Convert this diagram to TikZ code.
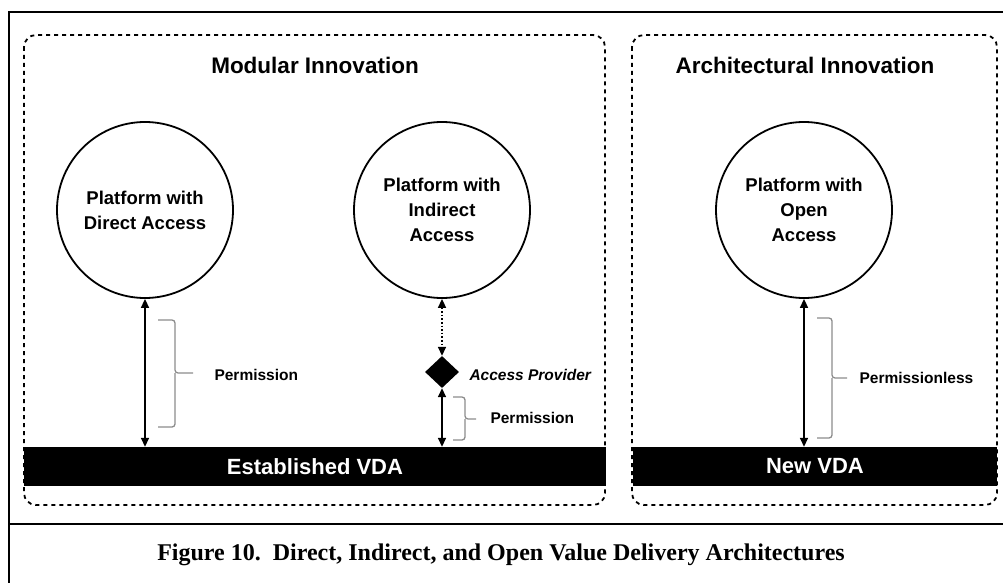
\documentclass[tikz,border=0pt]{standalone}
\usepackage{fontspec}
\setmainfont{Liberation Sans}
\newfontfamily\capfont{Liberation Serif}
\usetikzlibrary{shapes.geometric,arrows.meta}
\tikzset{
	platform/.style={circle,draw,line width=1.8pt,minimum size=176pt,inner sep=0pt,align=center,font=\bfseries\fontsize{18.5}{25}\selectfont},
	vda/.style={fill=black,text=white,inner sep=0pt,minimum height=39pt,font=\bfseries\fontsize{22}{26}\selectfont},
	area/.style={draw,line width=1.8pt,dash pattern=on 4pt off 4pt,rounded corners=12pt},
	heading/.style={font=\bfseries\fontsize{22.5}{26}\selectfont},
	small/.style={font=\bfseries\fontsize{15.5}{18}\selectfont},
	bracket/.style={draw=black!45,line width=1.3pt,rounded corners=3pt},
	link/.style={<->,line width=1.6pt}
}
\begin{document}
\begin{tikzpicture}[>={Triangle[length=9pt,width=8pt]},x=1pt,y=-1pt]
	\useasboundingbox (0,0) rectangle (1003,583);
	\draw[line width=2.5pt] (9,583) -- (9,12) -- (1003,12);
	\draw[line width=2.5pt] (9,524) -- (1003,524);
	\draw[area] (24,35) rectangle (605,505);
	\draw[area] (632,35) rectangle (997,505);
	\node[heading] (modular) at (315,65) {Modular Innovation};
	\node[heading] (archi) at (805,65) {Architectural Innovation};
	\node[vda,minimum width=582pt] (estab) at (315,466.5) {Established VDA};
	\node[vda,minimum width=364pt] (newvda) at (815,466.5) {New VDA};
	\node[platform] (direct) at (145,210) {Platform with\\Direct Access};
	\node[platform] (indirect) at (442,210) {Platform with\\Indirect\\Access};
	\node[platform] (open) at (804,210) {Platform with\\Open\\Access};
	\node[diamond,fill=black,inner sep=0pt,minimum width=34pt,minimum height=32pt] (prov) at (442,372) {};
	\node[small,anchor=west] (provlabel) at (466,375) {\itshape Access Provider};
	\draw[link] (direct.south) -- (direct.south |- estab.north);
	\draw[link,dotted] (indirect.south) -- (prov.north);
	\draw[link] (prov.south) -- (prov.south |- estab.north);
	\draw[link] (open.south) -- (open.south |- newvda.north);
	\draw[bracket] (158,320) -- (175,320) -- (175,373) -- (193,373);
	\draw[bracket] (158,427) -- (175,427) -- (175,373);
	\node[small,anchor=west] (perm1) at (211,375) {Permission};
	\draw[bracket] (453,397) -- (465,397) -- (465,419) -- (476,419);
	\draw[bracket] (453,440) -- (465,440) -- (465,419);
	\node[small,anchor=west] (perm2) at (487,418) {Permission};
	\draw[bracket] (817,318) -- (832,318) -- (832,378) -- (847,378);
	\draw[bracket] (817,438) -- (832,438) -- (832,378);
	\node[small,anchor=west] (perm3) at (856,378) {Permissionless};
	\node[font=\capfont\bfseries\fontsize{24}{28}\selectfont] (caption) at (501,555) {Figure 10.\ \ Direct, Indirect, and Open Value Delivery Architectures};
\end{tikzpicture}
\end{document}
